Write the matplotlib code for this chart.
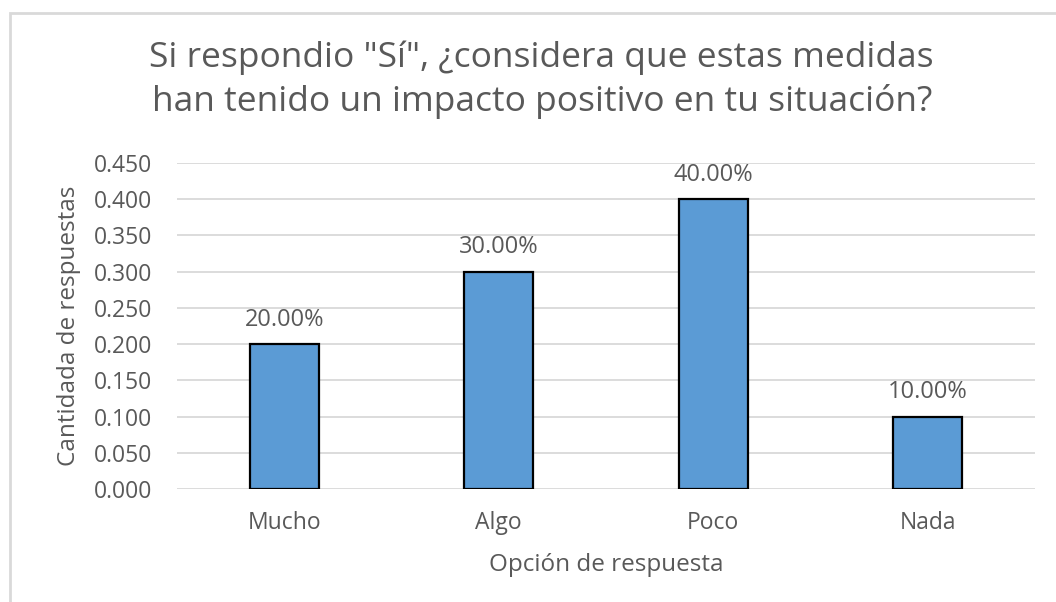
import matplotlib

matplotlib.use("Agg")
import matplotlib.pyplot as plt
from matplotlib.patches import Rectangle

categories = ["Mucho", "Algo", "Poco", "Nada"]
values = [0.20, 0.30, 0.40, 0.10]
labels = ["20.00%", "30.00%", "40.00%", "10.00%"]
yticks = [0.0, 0.05, 0.10, 0.15, 0.20, 0.25, 0.30, 0.35, 0.40, 0.45]

TEXT = "#595959"
plt.rcParams["font.family"] = ["Open Sans", "DejaVu Sans"]

fig = plt.figure(figsize=(10.56, 6.02), dpi=100)
fig.patches.append(Rectangle((10 / 1056, -0.1), 1.2, 1 - 13 / 602 + 0.1,
                             transform=fig.transFigure, fill=False,
                             edgecolor="#D9D9D9", linewidth=2))
ax = fig.add_axes([177 / 1056, 1 - 489 / 602, 858 / 1056, 326 / 602])

x = range(len(categories))
ax.bar(x, values, width=0.32, color="#5B9BD5", edgecolor="black",
       linewidth=1.6, zorder=3)
for xi, v, lab in zip(x, values, labels):
    ax.annotate(lab, (xi, v), xytext=(0, 9), textcoords="offset points",
                ha="center", va="bottom", fontsize=17, color=TEXT)

ax.set_xlim(-0.5, len(categories) - 0.5)
ax.set_ylim(0, 0.45)
ax.set_yticks(yticks, [f"{t:.3f}" for t in yticks])
ax.set_xticks(list(x), categories)
ax.tick_params(axis="both", length=0, labelsize=16.5, labelcolor=TEXT)
ax.tick_params(axis="y", pad=18)
ax.tick_params(axis="x", pad=16)
ax.grid(axis="y", color="#D9D9D9", linewidth=1.3, zorder=0)
for side in ax.spines.values():
    side.set_visible(False)

ax.set_ylabel("Cantidada de respuestas", fontsize=17.5, color=TEXT, labelpad=9)
ax.set_xlabel("Opción de respuesta", fontsize=17.5, color=TEXT, labelpad=13)
fig.text(0.513, 1 - 80 / 602,
         "Si respondio \"Sí\", ¿considera que estas medidas\nhan tenido un impacto positivo en tu situación?",
         ha="center", va="center", fontsize=25.5, color=TEXT, linespacing=1.32)

fig.savefig("out.png", dpi=100)
